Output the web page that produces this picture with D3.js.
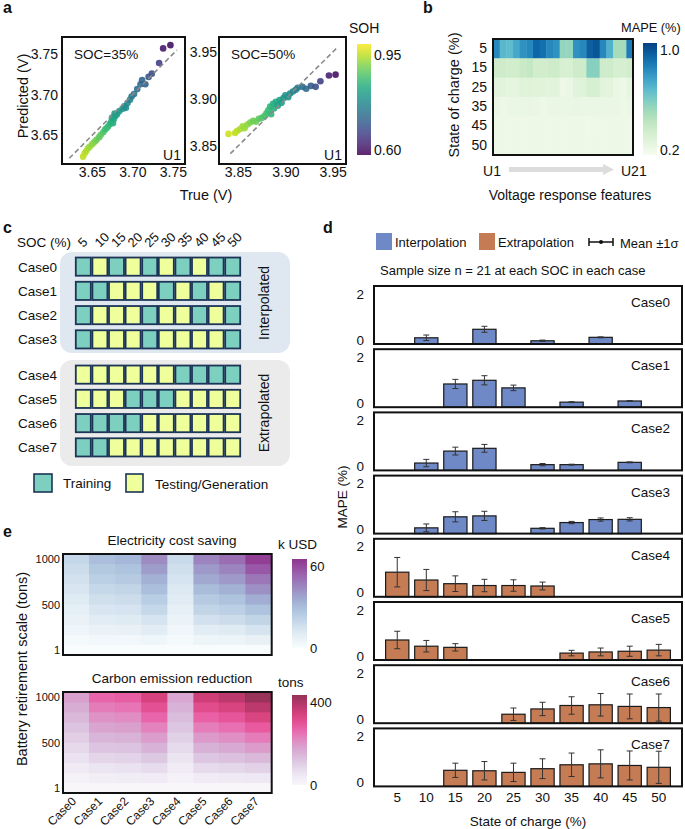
<!DOCTYPE html>
<html>
<head>
<meta charset="utf-8">
<script src="https://cdn.jsdelivr.net/npm/d3@7"></script>
<style>
  body { margin: 0; background: #fff; }
  text { font-family: "Liberation Sans", Arial, sans-serif; fill: #111; }
</style>
</head>
<body>
<svg id="fig" width="685" height="829"></svg>
<script>
// ---------- data ----------
// a: true vs predicted voltage (V), colour = SOH
var true35 = [3.639,3.641,3.643,3.645,3.647,3.650,3.652,3.654,3.656,3.659,3.661,3.664,3.666,3.668,3.670,3.672,3.674,3.676,3.677,3.675,3.679,3.678,3.681,3.684,3.688,3.690,3.692,3.694,3.697,3.699,3.702,3.706,3.710,3.712,3.716,3.720,3.724,3.733,3.738,3.747];
var pred35 = [3.624,3.628,3.631,3.634,3.636,3.639,3.641,3.643,3.645,3.648,3.651,3.654,3.657,3.659,3.661,3.664,3.667,3.665,3.670,3.672,3.674,3.677,3.676,3.680,3.683,3.686,3.684,3.690,3.694,3.698,3.701,3.707,3.713,3.718,3.713,3.722,3.726,3.739,3.757,3.761];
var soh35  = [0.95,0.95,0.94,0.94,0.93,0.92,0.92,0.91,0.90,0.89,0.89,0.88,0.87,0.86,0.86,0.85,0.84,0.84,0.83,0.82,0.82,0.81,0.81,0.80,0.79,0.78,0.78,0.77,0.76,0.75,0.74,0.73,0.72,0.71,0.71,0.69,0.68,0.66,0.61,0.60];
var true50 = [3.840,3.847,3.849,3.852,3.855,3.857,3.860,3.863,3.866,3.869,3.872,3.875,3.878,3.880,3.882,3.884,3.885,3.887,3.888,3.890,3.892,3.894,3.896,3.898,3.900,3.903,3.905,3.908,3.911,3.913,3.918,3.922,3.927,3.932,3.937,3.946,3.953];
var pred50 = [3.863,3.864,3.866,3.868,3.871,3.869,3.873,3.875,3.877,3.876,3.879,3.880,3.882,3.885,3.888,3.892,3.884,3.895,3.890,3.897,3.893,3.899,3.896,3.901,3.904,3.902,3.906,3.908,3.910,3.912,3.913,3.911,3.914,3.913,3.919,3.925,3.926];
var soh50  = [0.96,0.95,0.95,0.94,0.93,0.93,0.92,0.91,0.90,0.90,0.89,0.88,0.87,0.87,0.86,0.85,0.85,0.84,0.84,0.83,0.82,0.82,0.81,0.80,0.79,0.79,0.78,0.77,0.76,0.75,0.73,0.72,0.70,0.68,0.66,0.62,0.60];

// b: MAPE (%) per SOC row and voltage feature
var socB = ['5','15','25','35','45','50'];
var featB = ['U1','U2','U3','U4','U5','U6','U7','U8','U9','U10','U11','U12','U13','U14','U15','U16','U17','U18','U19','U20','U21'];
var mapeB = [
  [0.85,0.70,0.68,0.75,0.82,0.85,0.95,0.92,0.85,0.82,0.55,0.55,0.82,0.85,0.97,1.00,0.85,0.72,0.50,0.50,0.88],
  [0.36,0.36,0.35,0.35,0.39,0.40,0.35,0.35,0.36,0.36,0.32,0.32,0.36,0.36,0.58,0.58,0.36,0.36,0.33,0.33,0.35],
  [0.27,0.26,0.25,0.25,0.28,0.28,0.27,0.27,0.26,0.26,0.21,0.22,0.27,0.28,0.33,0.33,0.26,0.26,0.22,0.21,0.25],
  [0.22,0.21,0.22,0.22,0.22,0.23,0.22,0.21,0.22,0.22,0.22,0.22,0.23,0.22,0.22,0.22,0.22,0.22,0.22,0.21,0.22],
  [0.21,0.21,0.21,0.21,0.21,0.21,0.21,0.21,0.21,0.21,0.21,0.21,0.21,0.21,0.20,0.21,0.21,0.21,0.21,0.21,0.21],
  [0.21,0.21,0.21,0.21,0.21,0.21,0.21,0.21,0.21,0.21,0.21,0.21,0.21,0.21,0.21,0.21,0.21,0.21,0.21,0.21,0.21]
];

// c: training (T) / testing (G) split per case
var socList = [5,10,15,20,25,30,35,40,45,50];
var casesC = ['Case0','Case1','Case2','Case3','Case4','Case5','Case6','Case7'];
var splits = ['TGTGTGTGTT','TTGGGTGTGT','TGGGTGGTGT','TGGGTGGGGT','GGGGGGTTTT','GGGTTTGGGG','TTTTGGGGGG','TTGGGGGGGG'];

// d: MAPE mean and sd (%) per case and SOC (null = training SOC)
var mapeD = [
  [null,0.27,null,0.64,null,0.14,null,0.29,null,null],
  [null,null,1.01,1.17,0.84,null,0.22,null,0.27,null],
  [null,0.32,0.84,0.96,null,0.25,0.25,null,0.35,null],
  [null,0.25,0.73,0.77,null,0.23,0.48,0.61,0.62,null],
  [1.07,0.73,0.57,0.49,0.49,0.47,null,null,null,null],
  [0.87,0.60,0.55,null,null,null,0.30,0.35,0.38,0.43],
  [null,null,null,null,0.39,0.62,0.77,0.80,0.73,0.68],
  [null,null,0.70,0.68,0.61,0.77,0.94,0.98,0.91,0.83]
];
var sdD = [
  [null,0.12,null,0.13,null,0.03,null,0.02,null,null],
  [null,null,0.20,0.20,0.12,null,0.02,null,0.02,null],
  [null,0.16,0.17,0.17,null,0.05,0.02,null,0.02,null],
  [null,0.17,0.22,0.20,null,0.03,0.05,0.07,0.07,null],
  [0.64,0.46,0.34,0.27,0.25,0.17,null,null,null,null],
  [0.38,0.25,0.16,null,null,null,0.12,0.17,0.22,0.25],
  [null,null,null,null,0.27,0.29,0.38,0.49,0.54,0.59],
  [null,null,0.31,0.40,0.40,0.43,0.51,0.61,0.63,0.70]
];

// e: per case, rows from 1000 tons (top) down to 1 ton (bottom)
var costE = [
  [18,16,14,12,10,8,6,4,2,0.02],
  [27,24,21,18,15,12,9,6,3,0.03],
  [29,26,23,19,16,13,10,6.5,3.2,0.03],
  [40,36,31,27,22,18,13,9,4.4,0.04],
  [17,15,13,11,9.5,7.5,5.7,3.8,1.9,0.02],
  [42,37,33,28,23,19,14,9.3,4.7,0.04],
  [47,42,37,31,26,21,16,10,5.2,0.05],
  [58,52,45,39,32,26,19,13,6.5,0.06]
];
var carbonE = [
  [170,151,132,113,94,76,57,38,19,0.2],
  [245,218,190,163,136,109,82,54,27,0.2],
  [255,227,198,170,142,113,85,57,28,0.3],
  [315,280,245,210,175,140,105,70,35,0.3],
  [160,142,124,107,89,71,53,36,18,0.2],
  [325,289,253,217,181,144,108,72,36,0.3],
  [350,311,272,233,194,156,117,78,39,0.4],
  [395,351,307,263,219,176,132,88,44,0.4]
];

var FONT = '"Liberation Sans", Arial, sans-serif';
var svg = d3.select('#fig');
var defs = svg.append('defs');

function label(x, y, s, size, anchor, rot) {
  var t = svg.append('text')
    .attr('font-size', size)
    .attr('text-anchor', anchor || 'start')
    .text(s);
  if (rot) t.attr('transform', 'translate(' + x + ',' + y + ') rotate(' + rot + ')');
  else t.attr('x', x).attr('y', y);
  return t;
}

function frame(x, y, w, h) {
  svg.append('rect').attr('x', x).attr('y', y).attr('width', w).attr('height', h)
    .attr('fill', 'none').attr('stroke', '#111').attr('stroke-width', 2);
}

// vertical gradient colour bar
function colorBar(id, interp, x, y, w, h, opacity) {
  var grad = defs.append('linearGradient').attr('id', id)
    .attr('x1', 0).attr('y1', 1).attr('x2', 0).attr('y2', 0);
  d3.range(0, 1.001, 0.1).forEach(function(t) {
    grad.append('stop').attr('offset', t).attr('stop-color', interp(t));
  });
  svg.append('rect').attr('x', x).attr('y', y).attr('width', w).attr('height', h)
    .attr('fill', 'url(#' + id + ')').attr('opacity', opacity || 1);
}

function styleAxis(g, size) {
  g.attr('font-family', FONT).attr('font-size', size);
  g.select('.domain').remove();
  g.selectAll('text').attr('fill', '#111');
}

// panel letters
[['a',3,13],['b',423,13],['c',3,233],['d',323,233],['e',3,537]].forEach(function(p) {
  label(p[1], p[2], p[0], 16).attr('font-weight', 'bold');
});

// ---------- a ----------
var sohColor = d3.scaleSequential(d3.interpolateViridis).domain([0.58, 0.99]);

function scatter(tv, pv, soh, c) {
  var x = d3.scaleLinear().domain(c.xDom).range([c.x0, c.x1]);
  var y = d3.scaleLinear().domain(c.yDom).range([164, 37]);
  var g = svg.append('g');
  g.selectAll('circle').data(d3.range(tv.length)).enter().append('circle')
    .attr('cx', function(i) { return x(tv[i]); })
    .attr('cy', function(i) { return y(pv[i]); })
    .attr('r', 3.3)
    .attr('fill', function(i) { return sohColor(soh[i]); })
    .attr('fill-opacity', 0.9);
  g.append('line')
    .attr('x1', x(c.diag[0])).attr('y1', y(c.diag[0]))
    .attr('x2', x(c.diag[1])).attr('y2', y(c.diag[1]))
    .attr('stroke', '#8a8a8a').attr('stroke-width', 1.6).attr('stroke-dasharray', '5,3');
  frame(c.x0, 37, c.x1 - c.x0, 127);

  var xa = svg.append('g').attr('transform', 'translate(0,164)')
    .call(d3.axisBottom(x).tickValues(c.ticks).tickSize(0).tickPadding(3).tickFormat(d3.format('.2f')));
  styleAxis(xa, 14);
  var ya = svg.append('g').attr('transform', 'translate(' + c.x0 + ',0)')
    .call(d3.axisLeft(y).tickValues(c.ticks).tickSize(0).tickPadding(c.pad).tickFormat(d3.format('.2f')));
  styleAxis(ya, 14);

  label(c.x0 + 12, 59, c.title, 13.5);
  label(c.x1 - 4, 160, 'U1', 14, 'end');
}

scatter(true35, pred35, soh35, {
  xDom: [3.613, 3.765], yDom: [3.615, 3.771], x0: 62, x1: 185,
  diag: [3.622, 3.755], ticks: [3.65, 3.70, 3.75], pad: 4, title: 'SOC=35%'
});
scatter(true50, pred50, soh50, {
  xDom: [3.830, 3.964], yDom: [3.831, 3.966], x0: 219, x1: 346,
  diag: [3.842, 3.955], ticks: [3.85, 3.90, 3.95], pad: 2, title: 'SOC=50%'
});
label(28, 96, 'Predicted (V)', 14.5, 'middle', -90);
label(206, 200, 'True (V)', 14.5, 'middle');

colorBar('sohGrad', function(t) { return sohColor(0.58 + t * 0.41); }, 357, 44, 14, 111, 0.85);
var sohY = d3.scaleLinear().domain([0.58, 0.99]).range([155, 44]);
label(349, 33, 'SOH', 14);
[0.95, 0.60].forEach(function(v) {
  label(374, sohY(v) + 5, d3.format('.2f')(v), 14);
});

// ---------- b ----------
var xb = d3.scaleBand().domain(featB).range([493, 633]);
var yb = d3.scaleBand().domain(socB).range([39, 155]);
var mapeColor = d3.scaleSequential(d3.interpolateGnBu).domain([0.16, 1.06]);

var cellsB = [];
socB.forEach(function(s, i) {
  featB.forEach(function(f, j) { cellsB.push({ soc: s, feat: f, v: mapeB[i][j] }); });
});
svg.append('g').selectAll('rect').data(cellsB).enter().append('rect')
  .attr('x', function(d) { return xb(d.feat); })
  .attr('y', function(d) { return yb(d.soc); })
  .attr('width', xb.bandwidth() + 0.4)
  .attr('height', yb.bandwidth() + 0.4)
  .attr('fill', function(d) { return mapeColor(d.v); });
frame(493, 39, 140, 116);

var yba = svg.append('g').attr('transform', 'translate(493,0)')
  .call(d3.axisLeft(yb).tickSize(0).tickPadding(6));
styleAxis(yba, 14);
label(459, 95, 'State of charge (%)', 14.5, 'middle', -90);

colorBar('mapeGrad', function(t) { return mapeColor(0.16 + t * 0.9); }, 643, 43, 14, 112);
var mapeY = d3.scaleLinear().domain([0.16, 1.06]).range([155, 43]);
label(621, 32, 'MAPE (%)', 12.8);
[1.0, 0.2].forEach(function(v) { label(660, mapeY(v) + 5, d3.format('.1f')(v), 14); });

label(492, 176, 'U1', 14, 'middle');
label(621, 176, 'U21', 14);
svg.append('line').attr('x1', 509).attr('y1', 169.5).attr('x2', 604).attr('y2', 169.5)
  .attr('stroke', '#dcdcdc').attr('stroke-width', 5);
svg.append('path').attr('d', 'M603,164 L614,169.5 L603,175 Z').attr('fill', '#dcdcdc');
label(570, 200, 'Voltage response features', 14, 'middle');

// ---------- c ----------
var xc = d3.scaleBand().domain(socList).range([75, 241]);
var yc1 = d3.scaleBand().domain(casesC.slice(0, 4)).range([254.5, 351.5]).paddingInner(0.25).paddingOuter(0.125);
var yc2 = d3.scaleBand().domain(casesC.slice(4)).range([362.5, 459.5]).paddingInner(0.25).paddingOuter(0.125);
function yc(c) { return casesC.indexOf(c) < 4 ? yc1(c) : yc2(c); }

svg.append('rect').attr('x', 60).attr('y', 252).attr('width', 230).attr('height', 101)
  .attr('rx', 12).attr('fill', '#dfe8f1');
svg.append('rect').attr('x', 60).attr('y', 360).attr('width', 230).attr('height', 106)
  .attr('rx', 12).attr('fill', '#ebebeb');

var trainColor = '#7dcfc0', testColor = '#efff9c', cellStroke = '#1c3557';
var cellsC = [];
casesC.forEach(function(c, i) {
  socList.forEach(function(s, j) { cellsC.push({ c: c, soc: s, k: splits[i][j] }); });
});
svg.append('g').selectAll('rect').data(cellsC).enter().append('rect')
  .attr('x', function(d) { return xc(d.soc) + 0.8; })
  .attr('y', function(d) { return yc(d.c); })
  .attr('width', xc.bandwidth() - 1.6)
  .attr('height', yc1.bandwidth())
  .attr('fill', function(d) { return d.k === 'T' ? trainColor : testColor; })
  .attr('stroke', cellStroke).attr('stroke-width', 1.8);

casesC.forEach(function(c) { label(57, yc(c) + yc1.bandwidth() / 2 + 5, c, 13.5, 'end'); });
label(17, 247, 'SOC (%)', 13.5);
socList.forEach(function(s) {
  label(xc(s) + xc.bandwidth() / 2, 248, String(s), 13, 'start', -45);
});
label(269, 303, 'Interpolated', 14, 'middle', -90);
label(269, 413, 'Extrapolated', 14, 'middle', -90);

svg.append('rect').attr('x', 34).attr('y', 474).attr('width', 18).attr('height', 18)
  .attr('fill', trainColor).attr('stroke', cellStroke).attr('stroke-width', 1.6);
label(63, 488, 'Training', 13.5);
svg.append('rect').attr('x', 126).attr('y', 474).attr('width', 17).attr('height', 18)
  .attr('fill', testColor).attr('stroke', cellStroke).attr('stroke-width', 1.6);
label(155, 489, 'Testing/Generation', 13.5);

// ---------- d ----------
var interpColor = '#6f88c6', extrapColor = '#c57c55';
var xd = d3.scaleBand().domain(socList).range([374, 682]).paddingInner(0.2).paddingOuter(0.4);

svg.append('rect').attr('x', 376).attr('y', 233).attr('width', 16).attr('height', 17).attr('fill', interpColor);
label(395, 247, 'Interpolation', 13);
svg.append('rect').attr('x', 479).attr('y', 233).attr('width', 16).attr('height', 17).attr('fill', extrapColor);
label(498, 247, 'Extrapolation', 13);
svg.append('line').attr('x1', 589).attr('x2', 613).attr('y1', 242).attr('y2', 242).attr('stroke', '#111').attr('stroke-width', 1.5);
[589, 613].forEach(function(x) {
  svg.append('line').attr('x1', x).attr('x2', x).attr('y1', 238).attr('y2', 246).attr('stroke', '#111').attr('stroke-width', 1.5);
});
svg.append('circle').attr('cx', 601).attr('cy', 242).attr('r', 2).attr('fill', '#111');
label(620, 248, 'Mean ±1σ', 13);
label(380, 275, 'Sample size n = 21 at each SOC in each case', 13);

casesC.forEach(function(c, i) {
  var top = 286 + i * 63.2, bot = top + 58;
  var y = d3.scaleLinear().domain([0, 58 / 23]).range([bot, top]);
  var rows = socList.map(function(s, j) {
    return { soc: s, m: mapeD[i][j], sd: sdD[i][j] };
  }).filter(function(d) { return d.m !== null; });
  var g = svg.append('g');

  g.selectAll('rect').data(rows).enter().append('rect')
    .attr('x', function(d) { return xd(d.soc); })
    .attr('width', xd.bandwidth())
    .attr('y', function(d) { return y(d.m); })
    .attr('height', function(d) { return bot - y(d.m); })
    .attr('fill', i < 4 ? interpColor : extrapColor)
    .attr('stroke', '#1a1a1a').attr('stroke-width', 1.2);

  var cx = function(d) { return xd(d.soc) + xd.bandwidth() / 2; };
  var eb = g.selectAll('g.err').data(rows).enter().append('g')
    .attr('stroke', '#333').attr('stroke-width', 1);
  eb.append('line').attr('x1', cx).attr('x2', cx)
    .attr('y1', function(d) { return y(d.m - d.sd); })
    .attr('y2', function(d) { return y(d.m + d.sd); });
  [-1, 1].forEach(function(sg) {
    eb.append('line')
      .attr('x1', function(d) { return cx(d) - 3; })
      .attr('x2', function(d) { return cx(d) + 3; })
      .attr('y1', function(d) { return y(d.m + sg * d.sd); })
      .attr('y2', function(d) { return y(d.m + sg * d.sd); });
  });

  frame(374, top, 308, 58);
  var ya = svg.append('g').attr('transform', 'translate(374,0)')
    .call(d3.axisLeft(y).tickValues([0, 2]).tickSize(0).tickPadding(10).tickFormat(d3.format('d')));
  styleAxis(ya, 13.5);
  ya.selectAll('text').attr('dy', '0');
  label(670, top + 21, c, 13.5, 'end');

  if (i === casesC.length - 1) {
    var xa = svg.append('g').attr('transform', 'translate(0,' + bot + ')')
      .call(d3.axisBottom(xd).tickSize(0).tickPadding(6));
    styleAxis(xa, 13.5);
  }
});
label(347, 497, 'MAPE (%)', 13.5, 'middle', -90);
label(528, 826, 'State of charge (%)', 13.5, 'middle');

// ---------- e ----------
var xe = d3.scaleBand().domain(casesC).range([63, 271.7]);

function heatE(vals, c) {
  var y = d3.scaleBand().domain(d3.range(10)).range([c.y0, c.y1]);
  var color = function(v) { return c.interp(v / c.max * c.tmax); };
  var cells = [];
  casesC.forEach(function(cs, i) {
    vals[i].forEach(function(v, r) { cells.push({ c: cs, r: r, v: v }); });
  });
  svg.append('g').selectAll('rect').data(cells).enter().append('rect')
    .attr('x', function(d) { return xe(d.c); })
    .attr('y', function(d) { return y(d.r); })
    .attr('width', xe.bandwidth() + 0.4)
    .attr('height', y.bandwidth() + 0.4)
    .attr('fill', function(d) { return color(d.v); })
    .attr('fill-opacity', c.op);
  frame(63, c.y0, 208.7, c.y1 - c.y0);

  var yl = d3.scaleLinear().domain([1, 1000])
    .range([c.y1 - y.bandwidth() / 2, c.y0 + y.bandwidth() / 2]);
  var ya = svg.append('g').attr('transform', 'translate(63,0)')
    .call(d3.axisLeft(yl).tickValues([1, 500, 1000]).tickSize(0).tickPadding(3).tickFormat(d3.format('d')));
  styleAxis(ya, 11);

  label(172, c.y0 - 9, c.title, 13.5, 'middle');
  colorBar(c.id, function(t) { return c.interp(t * c.tmax); }, 292, c.cb0, 15, c.cb1 - c.cb0, c.op);
  label(278, c.y0 - 5, c.unit, 13.5);
  label(310, c.cb0 + 12, String(c.max), 13);
  label(310, c.cb1 + 5, '0', 13);
}

heatE(costE, {
  y0: 554, y1: 655, max: 60, tmax: 0.88, op: 0.85, interp: d3.interpolateBuPu,
  title: 'Electricity cost saving', unit: 'k USD', id: 'costGrad', cb0: 559, cb1: 648
});
heatE(carbonE, {
  y0: 692, y1: 793, max: 400, tmax: 0.95, op: 0.8, interp: d3.interpolatePuRd,
  title: 'Carbon emission reduction', unit: 'tons', id: 'carbonGrad', cb0: 695, cb1: 785
});
casesC.forEach(function(c) {
  label(xe(c) + xe.bandwidth() / 2 + 1, 802, c, 12, 'end', -45);
});
label(27, 669, 'Battery retirement scale (tons)', 14.5, 'middle', -90);
</script>
</body>
</html>
